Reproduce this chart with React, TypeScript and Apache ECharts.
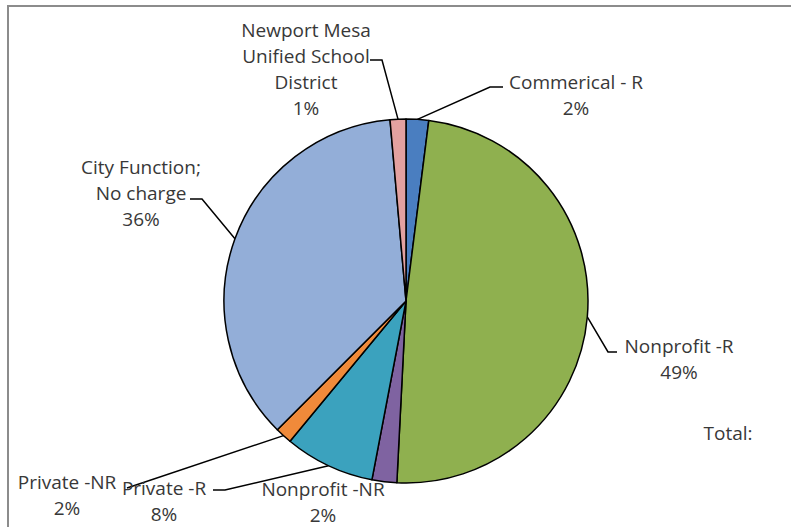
import React, { useEffect, useRef } from "react";
import * as echarts from "echarts";

const CATEGORIES = [
  "Commerical - R",
  "Nonprofit -R",
  "Nonprofit -NR",
  "Private -R",
  "Private -NR",
  "City Function; No charge",
  "Newport Mesa Unified School District",
];
const VALUES = [2.0, 48.8, 2.2, 8.0, 1.5, 36.1, 1.4];
const LABEL_TEXT = [
  "Commerical - R",
  "Nonprofit -R",
  "Nonprofit -NR",
  "Private -R",
  "Private -NR",
  "City Function;\nNo charge",
  "Newport Mesa\nUnified School\nDistrict",
];
const COLORS = ["#4a7ec0", "#8fb04f", "#7f63a1", "#3ba2be", "#f08a3a", "#93aed8", "#e3a1a0"];

// label placement (layout only)
const LABEL_LAYOUT: { x: number; y: number; line: number[][] | null }[] = [
  { x: 576, y: 95, line: [[490, 87], [503, 87]] },
  { x: 679, y: 359, line: [[608, 352], [617, 352]] },
  { x: 323, y: 502, line: null },
  { x: 164, y: 501, line: [[225, 490], [213, 490]] },
  { x: 67, y: 495, line: [[127, 488], [127, 488]] },
  { x: 141, y: 193, line: [[202, 199], [190, 199]] },
  { x: 306, y: 69, line: [[382, 60], [370, 60]] },
];

const FONT = "'Open Sans', sans-serif";
const FONT_SIZE = 19;

export default function App() {
  const ref = useRef<HTMLDivElement>(null);
  useEffect(() => {
    if (!ref.current) return;
    const chart = echarts.init(ref.current, null, { renderer: "svg" });
    chart.setOption({
      animation: false,
      backgroundColor: "#ffffff",
      graphic: [
        {
          type: "rect",
          shape: { x: 8, y: 6, width: 820, height: 600 },
          style: { fill: "none", stroke: "#8c8c8c", lineWidth: 2 },
          silent: true,
        },
        {
          type: "text",
          x: 728,
          y: 433,
          style: {
            text: "Total:",
            font: `${FONT_SIZE}px ${FONT}`,
            fill: "#383838",
            align: "center",
            verticalAlign: "middle",
          },
        },
      ],
      series: [
        {
          type: "pie",
          center: [406, 301],
          radius: 182,
          startAngle: 90,
          clockwise: true,
          avoidLabelOverlap: false,
          itemStyle: { borderColor: "#000", borderWidth: 1.5 },
          label: {
            show: true,
            position: "outside",
            color: "#383838",
            fontFamily: FONT,
            fontSize: FONT_SIZE,
            lineHeight: 26,
            align: "center",
            formatter: (p: any) => `${LABEL_TEXT[p.dataIndex]}\n${Math.round(p.percent)}%`,
          },
          labelLine: {
            show: true,
            length: 10,
            length2: 10,
            lineStyle: { color: "#000", width: 1.5 },
          },
          labelLayout: (params: any) => {
            const L = LABEL_LAYOUT[params.dataIndex];
            const start = params.labelLinePoints ? params.labelLinePoints[0] : null;
            const res: any = { x: L.x, y: L.y, align: "center", verticalAlign: "middle" };
            if (L.line && start) res.labelLinePoints = [start, ...L.line];
            return res;
          },
          emphasis: { disabled: true },
          data: CATEGORIES.map((name, i) => ({
            name,
            value: VALUES[i],
            itemStyle: { color: COLORS[i] },
            labelLine: { show: LABEL_LAYOUT[i].line !== null },
          })),
        },
      ],
    });
    return () => chart.dispose();
  }, []);
  return (
    <div
      ref={ref}
      style={{ position: "fixed", left: 0, top: 0, width: 791, height: 527 }}
    />
  );
}
